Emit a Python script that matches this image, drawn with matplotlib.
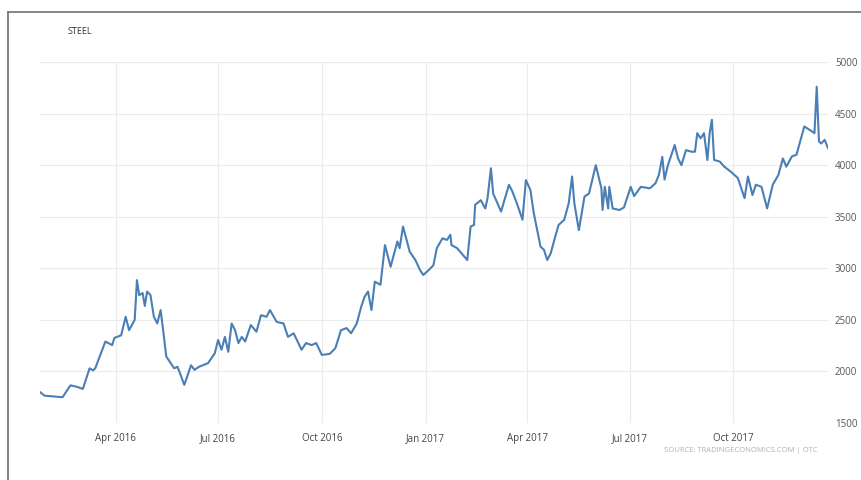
import matplotlib
matplotlib.use("Agg")
import matplotlib.pyplot as plt
from matplotlib.lines import Line2D
import pandas as pd

dates = [
    "2016-01-25", "2016-01-29", "2016-02-14", "2016-02-21", "2016-02-27", "2016-03-03",
    "2016-03-09", "2016-03-12", "2016-03-14", "2016-03-23", "2016-03-29", "2016-03-31",
    "2016-04-06", "2016-04-10", "2016-04-13", "2016-04-18", "2016-04-20", "2016-04-22",
    "2016-04-25", "2016-04-27", "2016-04-29", "2016-05-02", "2016-05-05", "2016-05-08",
    "2016-05-11", "2016-05-13", "2016-05-16", "2016-05-23", "2016-05-26", "2016-06-01",
    "2016-06-07", "2016-06-10", "2016-06-14", "2016-06-22", "2016-06-28", "2016-07-01",
    "2016-07-04", "2016-07-07", "2016-07-10", "2016-07-13", "2016-07-16", "2016-07-19",
    "2016-07-22", "2016-07-25", "2016-07-30", "2016-08-04", "2016-08-08", "2016-08-13",
    "2016-08-16", "2016-08-22", "2016-08-28", "2016-09-01", "2016-09-06", "2016-09-13",
    "2016-09-17", "2016-09-22", "2016-09-26", "2016-10-01", "2016-10-08", "2016-10-13",
    "2016-10-18", "2016-10-23", "2016-10-27", "2016-11-01", "2016-11-05", "2016-11-08",
    "2016-11-11", "2016-11-14", "2016-11-17", "2016-11-22", "2016-11-26", "2016-12-01",
    "2016-12-07", "2016-12-09", "2016-12-12", "2016-12-18", "2016-12-23", "2016-12-27",
    "2016-12-30", "2017-01-04", "2017-01-08", "2017-01-11", "2017-01-16", "2017-01-20",
    "2017-01-23", "2017-01-24", "2017-01-29", "2017-02-07", "2017-02-10", "2017-02-13",
    "2017-02-14", "2017-02-19", "2017-02-23", "2017-02-25", "2017-02-28", "2017-03-02",
    "2017-03-09", "2017-03-16", "2017-03-19", "2017-03-23", "2017-03-28", "2017-03-31",
    "2017-04-04", "2017-04-07", "2017-04-13", "2017-04-16", "2017-04-19", "2017-04-22",
    "2017-04-26", "2017-04-29", "2017-05-04", "2017-05-08", "2017-05-11", "2017-05-13",
    "2017-05-17", "2017-05-22", "2017-05-26", "2017-06-01", "2017-06-06", "2017-06-07",
    "2017-06-09", "2017-06-12", "2017-06-13", "2017-06-16", "2017-06-22", "2017-06-26",
    "2017-07-02", "2017-07-05", "2017-07-11", "2017-07-19", "2017-07-24", "2017-07-27",
    "2017-07-30", "2017-08-01", "2017-08-04", "2017-08-10", "2017-08-13", "2017-08-16",
    "2017-08-20", "2017-08-25", "2017-08-28", "2017-08-30", "2017-09-02", "2017-09-05",
    "2017-09-08", "2017-09-10", "2017-09-12", "2017-09-14", "2017-09-19", "2017-09-23",
    "2017-09-29", "2017-10-05", "2017-10-11", "2017-10-14", "2017-10-18", "2017-10-21",
    "2017-10-26", "2017-10-31", "2017-11-05", "2017-11-10", "2017-11-14", "2017-11-17",
    "2017-11-22", "2017-11-26", "2017-12-03", "2017-12-08", "2017-12-12", "2017-12-14",
    "2017-12-16", "2017-12-18", "2017-12-21", "2017-12-24",
]

values = [
    1800, 1765, 1750, 1865, 1850, 1830,
    2030, 2010, 2030, 2290, 2255, 2325,
    2350, 2530, 2400, 2500, 2885, 2740,
    2760, 2635, 2775, 2740, 2530, 2465,
    2595, 2420, 2145, 2030, 2045, 1870,
    2060, 2015, 2045, 2080, 2175, 2305,
    2210, 2335, 2190, 2465, 2400, 2275,
    2335, 2290, 2450, 2385, 2545, 2530,
    2595, 2480, 2465, 2335, 2370, 2210,
    2275, 2255, 2275, 2160, 2170, 2225,
    2400, 2420, 2370, 2465, 2630, 2725,
    2775, 2595, 2870, 2840, 3225, 3015,
    3260, 3195, 3405, 3160, 3080, 2985,
    2935, 2985, 3030, 3195, 3290, 3275,
    3325, 3225, 3195, 3080, 3405, 3420,
    3615, 3660, 3580, 3680, 3970, 3725,
    3550, 3810, 3745, 3630, 3470, 3855,
    3760, 3535, 3210, 3180, 3080, 3145,
    3305, 3420, 3470, 3630, 3890, 3630,
    3370, 3695, 3725, 4000, 3775, 3565,
    3790, 3580, 3790, 3580, 3565, 3590,
    3790, 3700, 3790, 3775, 3825, 3905,
    4080, 3860, 4000, 4195, 4065, 4000,
    4145, 4130, 4130, 4310, 4260, 4310,
    4050, 4310, 4440, 4050, 4035, 3985,
    3935, 3875, 3680, 3890, 3710, 3810,
    3790, 3580, 3810, 3905, 4065, 3985,
    4085, 4100, 4375, 4340, 4310, 4760,
    4230, 4210, 4245, 4165,
]

title = "STEEL"
source = "SOURCE: TRADINGECONOMICS.COM | OTC"
y_ticks = [1500, 2000, 2500, 3000, 3500, 4000, 4500, 5000]
x_ticks = ["2016-04-01", "2016-07-01", "2016-10-01", "2017-01-01",
           "2017-04-01", "2017-07-01", "2017-10-01"]
x_tick_labels = ["Apr 2016", "Jul 2016", "Oct 2016", "Jan 2017",
                 "Apr 2017", "Jul 2017", "Oct 2017"]

plt.rcParams["font.family"] = ["Open Sans", "DejaVu Sans"]

W, H = 862, 480
fig = plt.figure(figsize=(W / 100, H / 100), dpi=100)
fig.patch.set_facecolor("white")

L, R, B, T = 40, 828, 423, 62
ax = fig.add_axes([L / W, 1 - B / H, (R - L) / W, (B - T) / H])

d = pd.to_datetime(dates)
ax.plot(d, values, color="#4a7fb6", lw=1.5, solid_joinstyle="round", zorder=3)

ax.set_xlim(d[0], d[-1])
ax.set_ylim(1500, 5000)
ax.set_yticks(y_ticks)
ax.set_xticks(pd.to_datetime(x_ticks))
ax.set_xticklabels(x_tick_labels)

ax.yaxis.tick_right()
ax.tick_params(axis="y", length=0, pad=5, labelsize=7, labelcolor="#555555")
ax.tick_params(axis="x", length=0, pad=7, labelsize=7, labelcolor="#444444")
for s in ax.spines.values():
    s.set_visible(False)
ax.grid(True, color="#ebebeb", lw=0.8)
ax.set_axisbelow(True)

# title and source
fig.text(68 / W, 1 - 31 / H, title, fontsize=6.5, color="#333333",
         ha="left", va="center")
fig.text(818 / W, 1 - 450 / H, source, fontsize=5.5, color="#b0b0b0",
         ha="right", va="center")

# outer border (partially visible)
fig.add_artist(Line2D([8 / W, 1.0], [1 - 12 / H, 1 - 12 / H],
                      transform=fig.transFigure, color="#707070", lw=1.2))
fig.add_artist(Line2D([8 / W, 8 / W], [0.0, 1 - 12 / H],
                      transform=fig.transFigure, color="#707070", lw=1.2))

fig.savefig("out.png", dpi=100)
